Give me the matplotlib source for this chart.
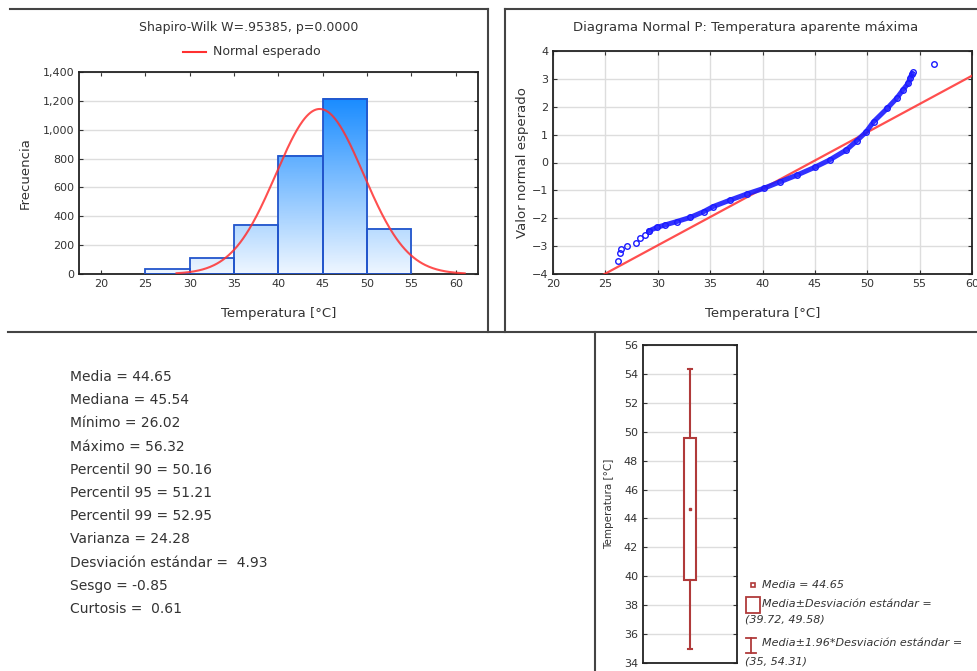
import numpy as np
import matplotlib
matplotlib.use("Agg")
import matplotlib.pyplot as plt
from matplotlib.lines import Line2D
from matplotlib.colors import LinearSegmentedColormap
from matplotlib.ticker import FuncFormatter

plt.rcParams["font.family"] = ["DejaVu Sans"]
plt.rcParams["text.color"] = "#333333"
plt.rcParams["axes.labelcolor"] = "#333333"
plt.rcParams["xtick.color"] = "#333333"
plt.rcParams["ytick.color"] = "#333333"

# ---- DATA ----
bin_edges = [20, 25, 30, 35, 40, 45, 50, 55, 60]
bin_counts = [0, 32, 108, 340, 820, 1215, 312, 0]

media = 44.65
desv = 4.93

# normal probability plot
qq_tail_x = [26.18, 26.40, 26.45, 27.10, 27.90, 28.30, 28.80, 29.20, 54.40, 56.37]
qq_tail_z = [-3.52, -3.26, -3.10, -3.00, -2.90, -2.70, -2.60, -2.45, 3.26, 3.52]
qq_body_x = [29.2, 29.9, 30.7, 31.8, 33.1, 34.4, 35.3, 36.9, 38.5, 40.1, 41.7,
             43.3, 45.0, 46.4, 48.0, 49.0, 49.9, 50.6, 51.9, 52.8, 53.4, 53.9,
             54.1, 54.25]
qq_body_z = [-2.45, -2.33, -2.24, -2.12, -1.97, -1.76, -1.58, -1.35, -1.13, -0.93,
             -0.69, -0.45, -0.17, 0.09, 0.45, 0.78, 1.10, 1.46, 1.94, 2.30, 2.60,
             2.84, 3.02, 3.18]

# box plot
box_low, box_high = 39.72, 49.58
whisk_low, whisk_high = 35.0, 54.31

stats_lines = [
    "Media = 44.65",
    "Mediana = 45.54",
    "Mínimo = 26.02",
    "Máximo = 56.32",
    "Percentil 90 = 50.16",
    "Percentil 95 = 51.21",
    "Percentil 99 = 52.95",
    "Varianza = 24.28",
    "Desviación estándar =  4.93",
    "Sesgo = -0.85",
    "Curtosis =  0.61",
]

W, H = 978, 671
fig = plt.figure(figsize=(W / 100, H / 100), dpi=100)


def rect(l, t, r, b):
    return [l / W, 1 - b / H, (r - l) / W, (b - t) / H]


def fx(x):
    return x / W


def fy(y):
    return 1 - y / H


def style_axes(ax):
    for s in ax.spines.values():
        s.set_color("#222222")
        s.set_linewidth(1.3)
    ax.tick_params(direction="in", length=3, labelsize=8, width=0.8,
                   top=True, right=True)
    ax.set_axisbelow(True)


red = "#ff3030"
blue = "#1a1aff"
box_col = "#b03a3a"

# ---- HISTOGRAM ----
ax1 = fig.add_axes(rect(79, 72, 478, 274))
style_axes(ax1)
cmap = LinearSegmentedColormap.from_list("g", ["#eef6ff", "#1a8cff"])
hmax = max(bin_counts)
for i, c in enumerate(bin_counts):
    if c <= 0:
        continue
    x0, x1 = bin_edges[i], bin_edges[i + 1]
    grad = np.linspace(0, c, 100).reshape(-1, 1)
    ax1.imshow(grad, extent=[x0, x1, 0, c], origin="lower", cmap=cmap,
               vmin=0, vmax=hmax, aspect="auto", zorder=2)
    ax1.bar(x0, c, width=x1 - x0, align="edge", facecolor="none",
            edgecolor="#2255cc", linewidth=1.3, zorder=3)

n_total = sum(bin_counts)
bw = bin_edges[1] - bin_edges[0]
xs = np.linspace(28.5, 61, 300)
ys = n_total * bw / (desv * np.sqrt(2 * np.pi)) * np.exp(-0.5 * ((xs - media) / desv) ** 2)
ax1.plot(xs, ys, color=red, lw=1.5, alpha=0.85, zorder=4)

ax1.set_xlim(17.5, 62.5)
ax1.set_ylim(0, 1400)
ax1.set_xticks(range(20, 61, 5))
ax1.set_yticks(range(0, 1401, 200))
ax1.yaxis.set_major_formatter(FuncFormatter(lambda v, p: f"{int(v):,}"))
ax1.grid(axis="y", color="#dddddd", lw=1)
ax1.set_xlabel("Temperatura [°C]", fontsize=9.5)
ax1.set_ylabel("Frecuencia", fontsize=9.5)
ax1.xaxis.set_label_coords(0.5, -0.163)
ax1.yaxis.set_label_coords(-0.118, 0.5)

fig.text(fx(249), fy(28), "Shapiro-Wilk W=.95385, p=0.0000", ha="center",
         va="center", fontsize=9)
fig.add_artist(Line2D([fx(183), fx(206)], [fy(52), fy(52)], color=red, lw=1.5))
fig.text(fx(213), fy(52), "Normal esperado", ha="left", va="center", fontsize=9)

# ---- NORMAL PROBABILITY PLOT ----
ax2 = fig.add_axes(rect(553, 51, 972, 274))
style_axes(ax2)
ax2.grid(color="#dddddd", lw=1)
lx = np.array([20, 60])
ax2.plot(lx, (lx - media) / desv, color=red, lw=1.6, alpha=0.85, zorder=3)
ax2.plot(qq_body_x, qq_body_z, color=blue, lw=3.6, alpha=0.9, zorder=4,
         solid_capstyle="round")
ax2.plot(qq_body_x, qq_body_z, "o", mfc="none", mec=blue, ms=4, mew=1, zorder=4)
ax2.plot(qq_tail_x, qq_tail_z, "o", mfc="none", mec=blue, ms=4, mew=1, zorder=4)
ax2.set_xlim(20, 60)
ax2.set_ylim(-4, 4)
ax2.set_xticks(range(20, 61, 5))
ax2.set_yticks(range(-4, 5))
ax2.set_xlabel("Temperatura [°C]", fontsize=9.5)
ax2.set_ylabel("Valor normal esperado", fontsize=9.5)
ax2.xaxis.set_label_coords(0.5, -0.148)
ax2.yaxis.set_label_coords(-0.057, 0.5)
fig.text(fx(746), fy(28), "Diagrama Normal P: Temperatura aparente máxima",
         ha="center", va="center", fontsize=9.5)

# ---- BOX PLOT ----
ax3 = fig.add_axes(rect(643, 345, 737, 663))
style_axes(ax3)
ax3.grid(axis="y", color="#dddddd", lw=1)
ax3.set_xlim(0, 1)
ax3.set_ylim(34, 56)
ax3.set_xticks([])
ax3.set_yticks(range(34, 57, 2))
cx, bwid, cap = 0.5, 0.13, 0.05
ax3.add_patch(plt.Rectangle((cx - bwid / 2, box_low), bwid, box_high - box_low,
                            facecolor="white", edgecolor=box_col, lw=1.5, zorder=3))
ax3.plot([cx, cx], [whisk_low, box_low], color=box_col, lw=1.5, zorder=3)
ax3.plot([cx, cx], [box_high, whisk_high], color=box_col, lw=1.5, zorder=3)
ax3.plot([cx - cap / 2, cx + cap / 2], [whisk_low] * 2, color=box_col, lw=1.5)
ax3.plot([cx - cap / 2, cx + cap / 2], [whisk_high] * 2, color=box_col, lw=1.5)
ax3.plot([cx], [media], "s", color=box_col, ms=2, zorder=4)
ax3.set_ylabel("Temperatura [°C]", fontsize=7.5)
ax3.yaxis.set_label_coords(-0.31, 0.5)

# legend of the box plot
fig.add_artist(Line2D([fx(753)], [fy(585)], marker="s", mfc="none", mec=box_col,
                      ms=3.5, mew=1.2, lw=0))
fig.text(fx(762), fy(585), f"Media = {media:.2f}", ha="left", va="center",
         fontsize=8, style="italic")
fig.add_artist(plt.Rectangle((fx(746), fy(613)), (760 - 746) / W, (613 - 597) / H,
                             transform=fig.transFigure, facecolor="none",
                             edgecolor=box_col, lw=1.3))
fig.text(fx(762), fy(604), "Media±Desviación estándar =", ha="left",
         va="center", fontsize=8, style="italic")
fig.text(fx(745), fy(620), f"({box_low}, {box_high})", ha="left", va="center",
         fontsize=8, style="italic")
fig.add_artist(Line2D([fx(751), fx(751)], [fy(638), fy(653)], color=box_col, lw=1.3))
fig.add_artist(Line2D([fx(746), fx(756)], [fy(638), fy(638)], color=box_col, lw=1.3))
fig.add_artist(Line2D([fx(746), fx(756)], [fy(653), fy(653)], color=box_col, lw=1.3))
fig.text(fx(762), fy(643), "Media±1.96*Desviación estándar =", ha="left",
         va="center", fontsize=8, style="italic")
fig.text(fx(745), fy(661), f"({whisk_low:g}, {whisk_high})", ha="left",
         va="center", fontsize=8, style="italic")

# ---- STATS TEXT ----
for i, line in enumerate(stats_lines):
    fig.text(fx(70), fy(377 + i * 23.2), line, ha="left", va="center",
             fontsize=10, color="#333333")

# ---- PANEL FRAMES ----
frame = dict(color="#444444", lw=1.5)
fig.add_artist(Line2D([fx(10), fx(488)], [fy(9), fy(9)], **frame))
fig.add_artist(Line2D([fx(488), fx(488)], [fy(9), fy(332)], **frame))
fig.add_artist(Line2D([fx(505), fx(978)], [fy(9), fy(9)], **frame))
fig.add_artist(Line2D([fx(505), fx(505)], [fy(9), fy(332)], **frame))
fig.add_artist(Line2D([fx(8), fx(978)], [fy(332), fy(332)], **frame))
fig.add_artist(Line2D([fx(595), fx(595)], [fy(332), fy(671)], **frame))

fig.savefig("out.png", dpi=100)
